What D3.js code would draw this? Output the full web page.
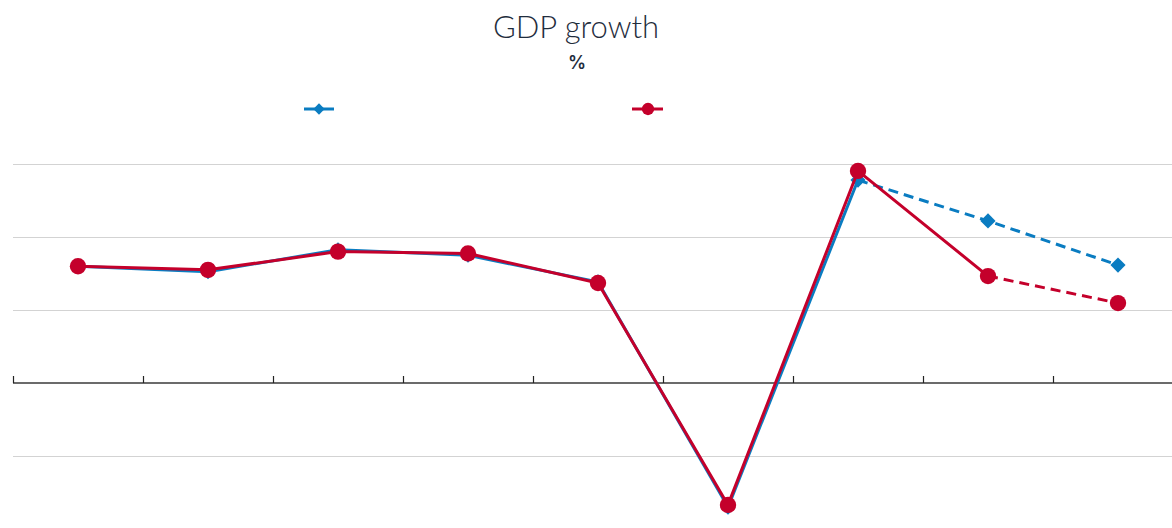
<!DOCTYPE html>
<html><head><meta charset="utf-8">
<script src="https://cdn.jsdelivr.net/npm/d3@7"></script>
<style>
html,body{margin:0;padding:0;background:#fff;}
svg{display:block;}
</style></head>
<body>
<svg id="chart" width="1172" height="528"></svg>
<script>
const categories = ["2015","2016","2017","2018","2019","2020","2021","2022","2023"];
const seriesBlue = [3.2, 3.05, 3.65, 3.5, 2.77, -3.4, 5.56, 4.44, 3.23];
const seriesRed  = [3.2, 3.1, 3.6, 3.55, 2.74, -3.34, 5.81, 2.93, 2.19];
const blueSolidUntil = 6;  // index where dashed begins
const redSolidUntil = 7;
const yTicks = [-4, -2, 0, 2, 4, 6];

const svg = d3.select("#chart");
const W = 1172, H = 528;
const x = d3.scaleBand().domain(categories).range([13, 1183]);
const y = d3.scaleLinear().domain([-4, 6]).range([529, 164]);
const cx = d => x(d) + x.bandwidth()/2;

const blue = "#0a7cc1", red = "#c4002b";

// title
svg.append("text").attr("x", 576).attr("y", 38).attr("text-anchor","middle")
  .attr("font-family","Lato, sans-serif").attr("font-weight",300)
  .attr("font-size",31).attr("fill","#1f2d3d").text("GDP growth");
svg.append("text").attr("x", 577).attr("y", 69).attr("text-anchor","middle")
  .attr("font-family","Inter, Roboto, sans-serif").attr("font-weight",600)
  .attr("font-size",18).attr("fill","#1f2d3d").text("%");

// gridlines
svg.append("g").selectAll("line").data(yTicks.filter(t => t !== 0)).join("line")
  .attr("x1", 13).attr("x2", W).attr("y1", d => Math.round(y(d))+0.5).attr("y2", d => Math.round(y(d))+0.5)
  .attr("stroke","#d3d3d3").attr("stroke-width",1);

// x axis at zero
const gx = svg.append("g").attr("transform", `translate(0,${y(0)})`);
gx.append("line").attr("x1",13).attr("x2",W).attr("y1",0).attr("y2",0).attr("stroke","#6b6b6b").attr("stroke-width",2);
gx.selectAll(".tk").data(categories).join("line").attr("class","tk")
  .attr("x1", d => Math.round(x(d))+0.5).attr("x2", d => Math.round(x(d))+0.5)
  .attr("y1", -7).attr("y2", 0).attr("stroke","#222").attr("stroke-width",1.2);

const line = d3.line().x(d => cx(d.c)).y(d => y(d.v));
function drawSeries(vals, color, solidUntil, marker) {
  const pts = vals.map((v,i) => ({c: categories[i], v}));
  const g = svg.append("g");
  g.append("path").attr("d", line(pts.slice(0, solidUntil+1))).attr("fill","none")
    .attr("stroke",color).attr("stroke-width",3).attr("stroke-linejoin","round");
  g.append("path").attr("d", line(pts.slice(solidUntil))).attr("fill","none")
    .attr("stroke",color).attr("stroke-width",3).attr("stroke-dasharray","10,6");
  const sym = d3.symbol().type(marker === "diamond" ? d3.symbolSquare : d3.symbolCircle)
    .size(marker === "diamond" ? 115 : 210);
  g.selectAll("path.m").data(pts).join("path").attr("class","m")
    .attr("d", sym)
    .attr("transform", d => `translate(${cx(d.c)},${y(d.v)})` + (marker==="diamond" ? " rotate(45)" : ""))
    .attr("fill", color);
}
drawSeries(seriesBlue, blue, blueSolidUntil, "diamond");
drawSeries(seriesRed, red, redSolidUntil, "circle");

// legend
const lg = svg.append("g");
lg.append("line").attr("x1",304).attr("x2",334).attr("y1",109).attr("y2",109).attr("stroke",blue).attr("stroke-width",3);
lg.append("path").attr("d", d3.symbol().type(d3.symbolSquare).size(64)).attr("transform","translate(319,109) rotate(45)").attr("fill",blue);
lg.append("line").attr("x1",632).attr("x2",663).attr("y1",109).attr("y2",109).attr("stroke",red).attr("stroke-width",3);
lg.append("path").attr("d", d3.symbol().type(d3.symbolCircle).size(120)).attr("transform","translate(648,109)").attr("fill",red);
</script>
</body></html>
